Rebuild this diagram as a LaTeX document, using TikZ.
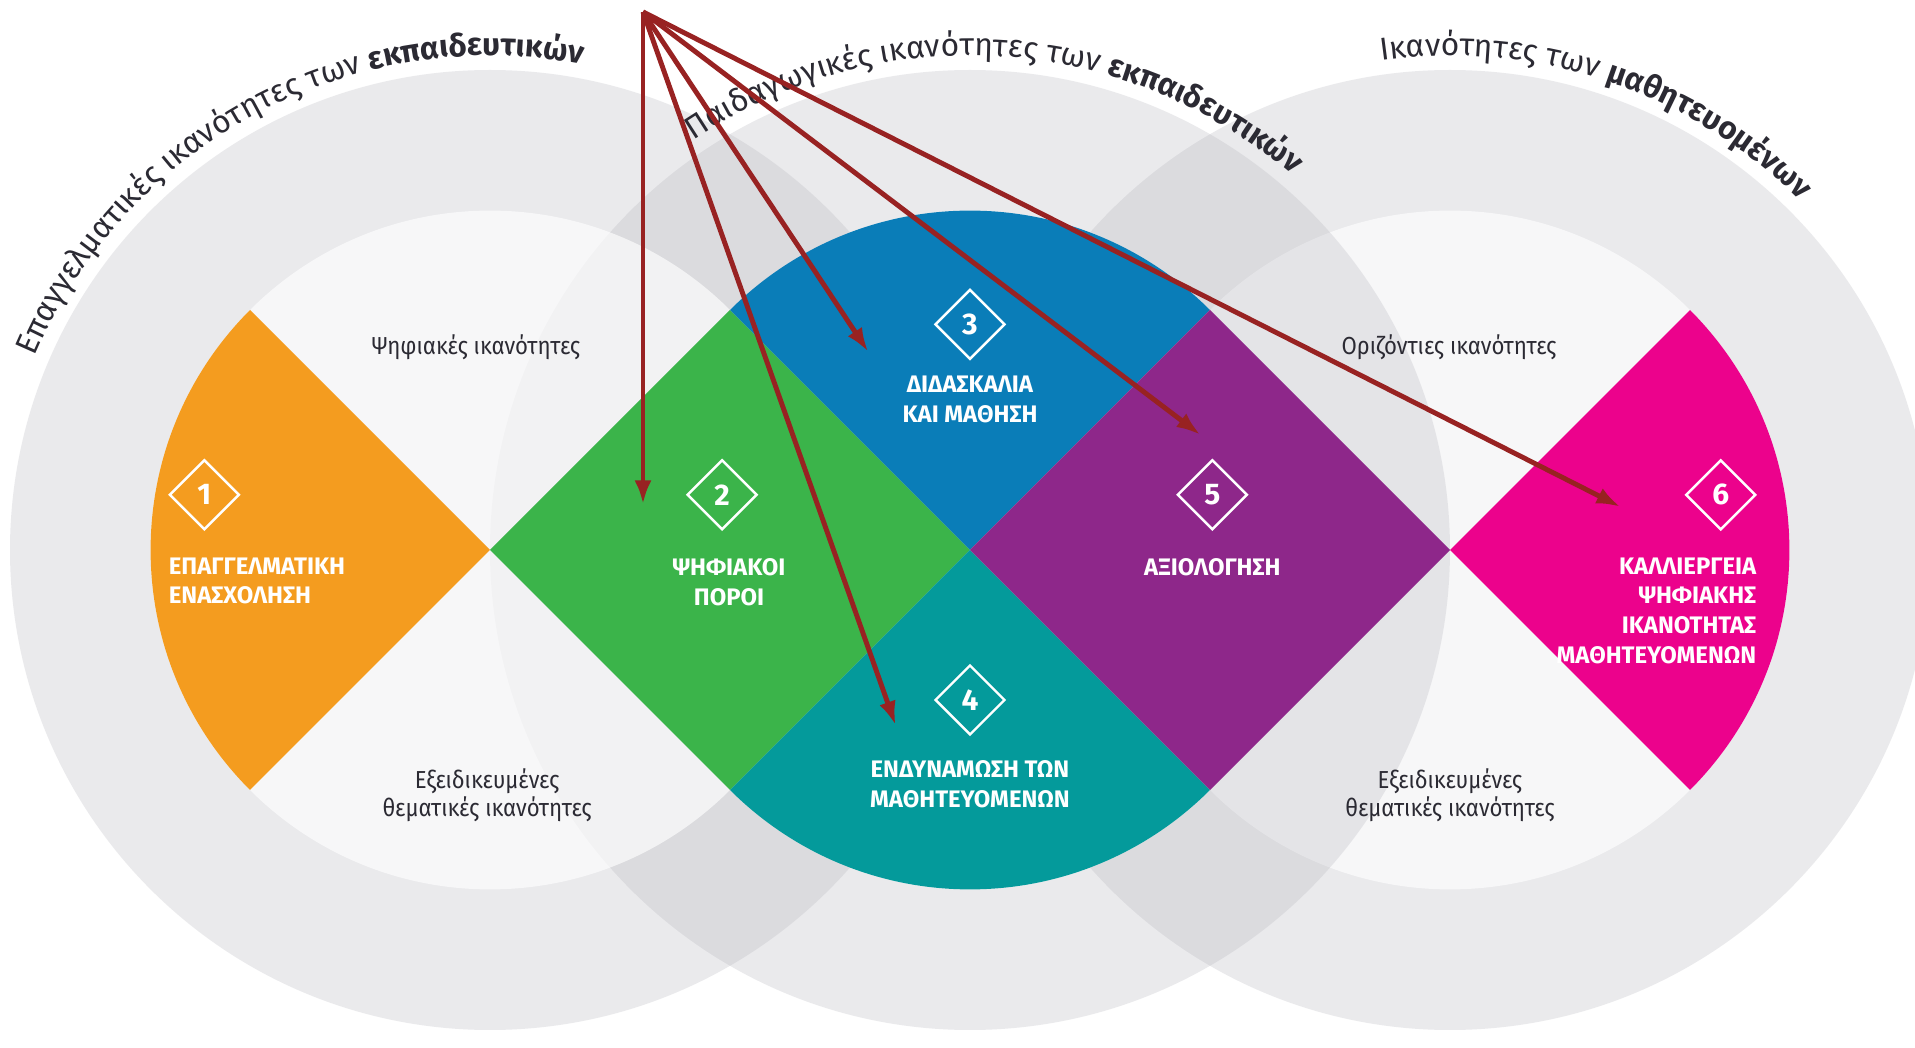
\documentclass[tikz,border=0pt]{standalone}
\usepackage{fontspec}
\setmainfont{Fira Sans}
\usepackage{xcolor}
\usepackage{tikz}
\usetikzlibrary{shapes.geometric, arrows.meta, positioning, calc, decorations.text}
\newfontfamily\plainfont[FakeStretch=0.9]{Fira Sans}
\definecolor{ringgray}{RGB}{175,175,183}
\definecolor{inkgray}{HTML}{2B2A33}
\definecolor{arrowred}{HTML}{982222}
\definecolor{ecorange}{HTML}{F49C1F}
\definecolor{ecgreen}{HTML}{3BB44A}
\definecolor{ecblue}{HTML}{0A7DB8}
\definecolor{ecteal}{HTML}{049A9B}
\definecolor{ecpurple}{HTML}{8E278A}
\definecolor{ecpink}{HTML}{EC028C}

\begin{document}
\begin{tikzpicture}[
    x=2.4cm, y=2.4cm,
    every node/.style={font=\small},
    ring/.style={fill=ringgray, fill opacity=0.25},
    core/.style={fill=white, fill opacity=0.65},
    badge/.style={
        diamond,
        draw=white,
        line width=0.7pt,
        minimum width=7mm,
        minimum height=7mm,
        inner sep=0pt,
        text=white,
        font=\bfseries\fontsize{8.5}{8.5}\selectfont
    },
    areatext/.style={
        text=white,
        inner sep=0pt,
        align=center,
        font=\bfseries\fontsize{6.8}{8.5}\selectfont
    },
    skilltext/.style={
        text=inkgray,
        inner sep=0pt,
        align=center,
        font=\plainfont\fontsize{7}{8}\selectfont
    },
    pointer/.style={
        -{Latex[length=2.4mm, width=1.7mm]},
        line width=1.4pt,
        draw=arrowred
    }
]

% Page frame
\useasboundingbox (-2.0417,-2.075) rectangle (5.9375,2.2917);
\fill[white] (-2.0417,-2.075) rectangle (5.9375,2.2917);

% Rings, the right one first
\begin{scope}
    \clip (-2.0417,-2.075) rectangle (5.9375,2.2917);
    \foreach \cx in {4,2,0} {
        \fill[ring] (\cx,0) circle (2);
        \fill[core] (\cx,0) circle (1.4142);
    }
\end{scope}

% Coloured areas, cut by the inner circles
\begin{scope}
    \clip (0,0) circle (1.4142) (2,0) circle (1.4142) (4,0) circle (1.4142);
    \foreach \cx/\cy/\col in {-1/0/ecorange, 1/0/ecgreen, 2/1/ecblue, 2/-1/ecteal, 3/0/ecpurple, 5/0/ecpink}
        \fill[\col] (\cx-1,\cy) -- (\cx,\cy+1) -- (\cx+1,\cy) -- (\cx,\cy-1) -- cycle;
\end{scope}

% Titles round the rings
\path[decorate, decoration={text along path, text align=left,
    text={|\color{inkgray}\fontsize{9}{9}\selectfont|Επαγγελματικές ικανότητες των |\color{inkgray}\bfseries\fontsize{9}{9}\selectfont|εκπαιδευτικών}}]
    (0,0) ++(157:2.06) arc[start angle=157, end angle=30, radius=2.06];
\path[decorate, decoration={text along path, text align=left,
    text={|\color{inkgray}\fontsize{9}{9}\selectfont|Παιδαγωγικές ικανότητες των |\color{inkgray}\bfseries\fontsize{9}{9}\selectfont|εκπαιδευτικών}}]
    (2,0) ++(124:2.06) arc[start angle=124, end angle=10, radius=2.06];
\path[decorate, decoration={text along path, text align=left,
    text={|\color{inkgray}\fontsize{9}{9}\selectfont|Ικανότητες των |\color{inkgray}\bfseries\fontsize{9}{9}\selectfont|μαθητευομένων}}]
    (4,0) ++(98:2.06) arc[start angle=98, end angle=0, radius=2.06];

% Gaps between the areas
\node[skilltext] (skillDig) at (-0.058, 0.846) {Ψηφιακές ικανότητες};
\node[skilltext] (skillSpecL) at (-0.012, -1.023) {Εξειδικευμένες\\θεματικές ικανότητες};
\node[skilltext] (skillHor) at (3.996, 0.846) {Οριζόντιες ικανότητες};
\node[skilltext] (skillSpecR) at (4.0, -1.023) {Εξειδικευμένες\\θεματικές ικανότητες};

% Numbered areas
\node[badge] (num1) at (-1.19, 0.23) {1};
\node[badge] (num2) at (0.967, 0.23) {2};
\node[badge] (num3) at (2.0, 0.94) {3};
\node[badge] (num4) at (2.0, -0.625) {4};
\node[badge] (num5) at (3.01, 0.23) {5};
\node[badge] (num6) at (5.128, 0.23) {6};

\node[areatext, align=left, anchor=north west] (lab1) at ([yshift=-6.2mm]num1.west) {ΕΠΑΓΓΕΛΜΑΤΙΚΗ\\ΕΝΑΣΧΟΛΗΣΗ};
\node[areatext, below=2.7mm of num2, xshift=0.7mm] (lab2) {ΨΗΦΙΑΚΟΙ\\ΠΟΡΟΙ};
\node[areatext, below=1.5mm of num3] (lab3) {ΔΙΔΑΣΚΑΛΙΑ\\ΚΑΙ ΜΑΘΗΣΗ};
\node[areatext, below=2.4mm of num4] (lab4) {ΕΝΔΥΝΑΜΩΣΗ ΤΩΝ\\ΜΑΘΗΤΕΥΟΜΕΝΩΝ};
\node[areatext, below=2.7mm of num5] (lab5) {ΑΞΙΟΛΟΓΗΣΗ};
\node[areatext, align=right, anchor=north east] (lab6) at ([yshift=-6.2mm]num6.east) {ΚΑΛΛΙΕΡΓΕΙΑ\\ΨΗΦΙΑΚΗΣ\\ΙΚΑΝΟΤΗΤΑΣ\\ΜΑΘΗΤΕΥΟΜΕΝΩΝ};

% Pointers from one spot
\coordinate (apex) at (0.6375, 2.242);
\coordinate (toGreen) at (0.6375, 0.19);
\coordinate (toBlue) at (1.576, 0.826);
\coordinate (toTeal) at (1.69, -0.73);
\coordinate (toPurple) at (2.96, 0.48);
\coordinate (toPink) at (4.71, 0.18);
\foreach \t in {toGreen, toBlue, toTeal, toPurple, toPink}
    \draw[pointer] (apex) -- (\t);

\end{tikzpicture}
\end{document}
